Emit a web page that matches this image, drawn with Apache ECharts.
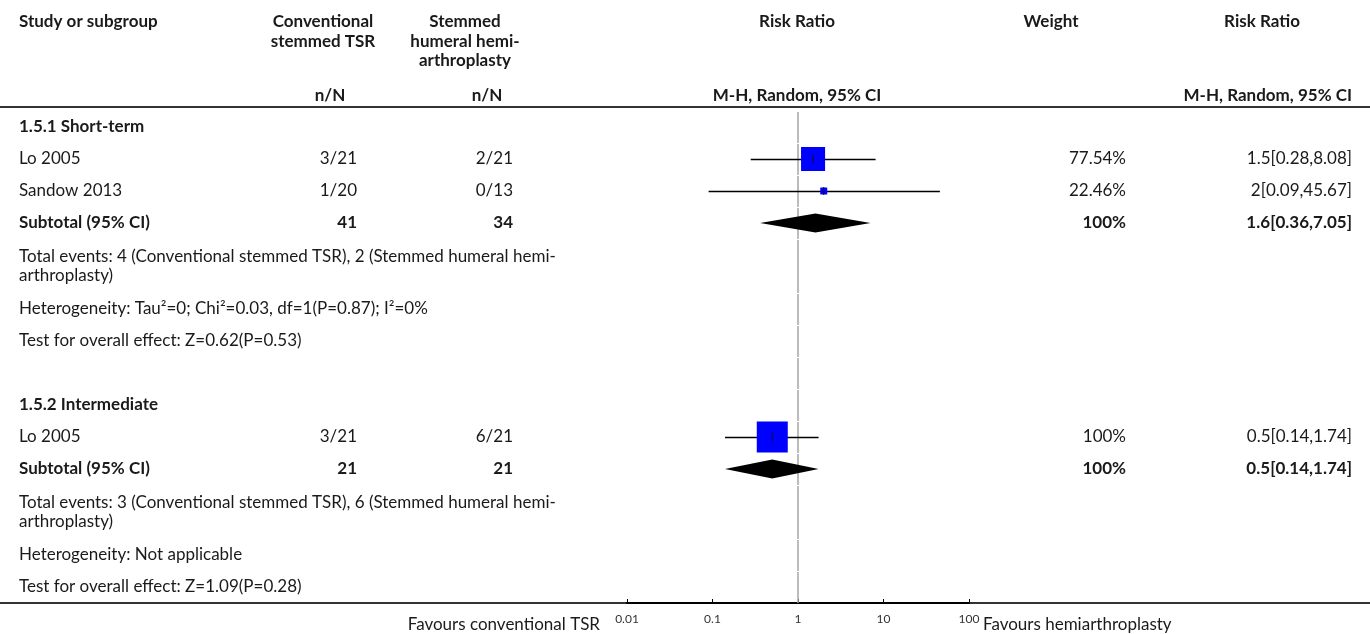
<!DOCTYPE html>
<html>
<head>
<meta charset="utf-8">
<script src="https://cdn.jsdelivr.net/npm/echarts@6/dist/echarts.min.js"></script>
<style>
  html, body { margin: 0; padding: 0; background: #fff; }
  #chart { width: 1370px; height: 634px; }
</style>
</head>
<body>
<div id="chart"></div>
<script>
// ---- Forest plot data: risk ratio, conventional stemmed TSR vs stemmed hemiarthroplasty ----
const studyLabels = [
  '1.5.1 Short-term',
  'Lo 2005',
  'Sandow 2013',
  'Subtotal (95% CI)',
  'Total events: 4 (Conventional stemmed TSR), 2 (Stemmed humeral hemi-\narthroplasty)',
  'Heterogeneity: Tau\u00b2=0; Chi\u00b2=0.03, df=1(P=0.87); I\u00b2=0%',
  'Test for overall effect: Z=0.62(P=0.53)',
  '',
  '1.5.2 Intermediate',
  'Lo 2005',
  'Subtotal (95% CI)',
  'Total events: 3 (Conventional stemmed TSR), 6 (Stemmed humeral hemi-\narthroplasty)',
  'Heterogeneity: Not applicable',
  'Test for overall effect: Z=1.09(P=0.28)'
];
const rowTypes = ['group', 'study', 'study', 'subtotal', 'note', 'note', 'note', 'blank',
                  'group', 'study', 'subtotal', 'note', 'note', 'note'];
const rowLines = [1, 1, 1, 1, 2, 1, 1, 1, 1, 1, 1, 2, 1, 1];
const conventionalEvents = ['', '3/21', '1/20', '41', '', '', '', '', '', '3/21', '21', '', '', ''];
const hemiEvents         = ['', '2/21', '0/13', '34', '', '', '', '', '', '6/21', '21', '', '', ''];
const riskRatio = [null, 1.5, 2, 1.6, null, null, null, null, null, 0.5, 0.5, null, null, null];
const ciLower   = [null, 0.28, 0.09, 0.36, null, null, null, null, null, 0.14, 0.14, null, null, null];
const ciUpper   = [null, 8.08, 45.67, 7.05, null, null, null, null, null, 1.74, 1.74, null, null, null];
const weights   = [null, 77.54, 22.46, 100, null, null, null, null, null, 100, 100, null, null, null];
const tickLabels = ['0.01', '0.1', '1', '10', '100'];

// ---- layout ----
const FONT = 'Lato, "Open Sans", sans-serif';
const SIZE = 17;
const TEXT = '#1a1a1a';
const col = { study: 19, conv: 357, hemi: 513, weight: 1126, rr: 1352 };
const BOX_MAX = 31;          // side of a 100% weight square, px
const DIAMOND_HALF = 9.5;    // half height of pooled diamond, px

// row extents in the y scale (px-like units), computed from line counts
const rowTop = [], rowMid = [], rowBottom = [];
let acc = 0;
rowLines.forEach(function (n) {
  const h = 10 + 22 * n;
  rowTop.push(acc);
  rowMid.push(acc + h / 2);
  acc += h;
  rowBottom.push(acc);
});
const totalHeight = acc;

const chart = echarts.init(document.getElementById('chart'), null, { renderer: 'canvas' });

function txt(text, x, y, align, bold, size) {
  return {
    type: 'text',
    style: {
      text: text, x: x, y: y,
      align: align, verticalAlign: 'middle',
      font: (bold ? 'bold ' : '') + (size || SIZE) + 'px ' + FONT,
      fill: TEXT, lineHeight: 19
    },
    silent: true
  };
}

const headerGraphics = [
  txt('Study or subgroup', 19, 22, 'left', true),
  txt('Conventional', 323, 22, 'center', true),
  txt('stemmed TSR', 323, 42, 'center', true),
  txt('Stemmed', 465, 22, 'center', true),
  txt('humeral hemi-', 465, 42, 'center', true),
  txt('arthroplasty', 465, 61, 'center', true),
  txt('Risk Ratio', 797, 22, 'center', true),
  txt('Weight', 1051, 22, 'center', true),
  txt('Risk Ratio', 1262, 22, 'center', true),
  txt('n/N', 330, 96, 'center', true),
  txt('n/N', 487, 96, 'center', true),
  txt('M-H, Random, 95% CI', 797, 96, 'center', true),
  txt('M-H, Random, 95% CI', col.rr, 96, 'right', true),
  { type: 'line', shape: { x1: 0, y1: 107, x2: 1370, y2: 107 },
    style: { stroke: '#333', lineWidth: 2 }, silent: true },
  { type: 'line', shape: { x1: 0, y1: 603, x2: 1370, y2: 603 },
    style: { stroke: '#333', lineWidth: 2 }, silent: true },
  txt('Favours conventional TSR', 600, 625, 'right', false),
  txt('Favours hemiarthroplasty', 983, 625, 'left', false)
];

const rowIndex = studyLabels.map(function (_, i) { return [i]; });

const option = {
  animation: false,
  backgroundColor: '#fff',
  grid: { left: 627, width: 342, top: 111, height: totalHeight },
  xAxis: {
    type: 'log', logBase: 10, min: 0.01, max: 100, position: 'bottom',
    axisLine: { show: true, onZero: false, lineStyle: { color: '#000', width: 2 } },
    axisTick: { show: true, inside: true, length: 4, lineStyle: { color: '#000', width: 1 } },
    axisLabel: {
      show: true, margin: 10, color: '#333', fontSize: 12, fontFamily: FONT,
      formatter: function (v) { return tickLabels[Math.round(Math.log10(v)) + 2]; }
    },
    splitLine: { show: false },
    minorTick: { show: false }
  },
  yAxis: { type: 'value', min: 0, max: totalHeight, inverse: true, show: false },
  graphic: headerGraphics,
  series: [
    {
      // line of no effect, one segment per row
      type: 'custom', name: 'noEffect', silent: true,
      data: rowIndex,
      renderItem: function (params, api) {
        const i = api.value(0);
        const p1 = api.coord([1, rowTop[i]]);
        const p2 = api.coord([1, rowBottom[i]]);
        return {
          type: 'line',
          shape: { x1: p1[0], y1: p1[1] + 1, x2: p2[0], y2: p2[1] },
          style: { stroke: '#a6a6a6', lineWidth: 1.5 }
        };
      }
    },
    {
      // table text columns
      type: 'custom', name: 'table', silent: true,
      data: rowIndex,
      renderItem: function (params, api) {
        const i = api.value(0);
        const y = api.coord([1, rowMid[i]])[1];
        const bold = rowTypes[i] === 'group' || rowTypes[i] === 'subtotal';
        const children = [];
        if (studyLabels[i]) children.push(txt(studyLabels[i], col.study, y, 'left', bold));
        if (conventionalEvents[i]) children.push(txt(conventionalEvents[i], col.conv, y, 'right', bold));
        if (hemiEvents[i]) children.push(txt(hemiEvents[i], col.hemi, y, 'right', bold));
        if (weights[i] != null) children.push(txt(weights[i] + '%', col.weight, y, 'right', bold));
        if (riskRatio[i] != null) {
          children.push(txt(riskRatio[i] + '[' + ciLower[i] + ',' + ciUpper[i] + ']', col.rr, y, 'right', bold));
        }
        return { type: 'group', children: children };
      }
    },
    {
      // study estimates and pooled diamonds
      type: 'custom', name: 'estimates', silent: true,
      data: rowIndex.filter(function (r) { return riskRatio[r[0]] != null; }),
      renderItem: function (params, api) {
        const i = api.value(0);
        const mid = rowMid[i];
        const c = api.coord([riskRatio[i], mid]);
        const lo = api.coord([ciLower[i], mid]);
        const hi = api.coord([ciUpper[i], mid]);
        if (rowTypes[i] === 'subtotal') {
          return {
            type: 'polygon',
            shape: { points: [[lo[0], c[1]], [c[0], c[1] - DIAMOND_HALF], [hi[0], c[1]], [c[0], c[1] + DIAMOND_HALF]] },
            style: { fill: '#000' }
          };
        }
        const s = BOX_MAX * weights[i] / 100;
        const yl = Math.round(c[1]) + 0.5;
        return {
          type: 'group',
          children: [
            { type: 'line', shape: { x1: lo[0], y1: yl, x2: hi[0], y2: yl },
              style: { stroke: '#000', lineWidth: 1.3 } },
            { type: 'rect', shape: { x: c[0] - s / 2, y: c[1] - s / 2, width: s, height: s },
              style: { fill: '#0000ff' } },
            { type: 'line', shape: { x1: c[0], y1: c[1] - 4, x2: c[0], y2: c[1] + 4 },
              style: { stroke: '#111', lineWidth: 1 } }
          ]
        };
      }
    }
  ]
};

chart.setOption(option);
</script>
</body>
</html>
